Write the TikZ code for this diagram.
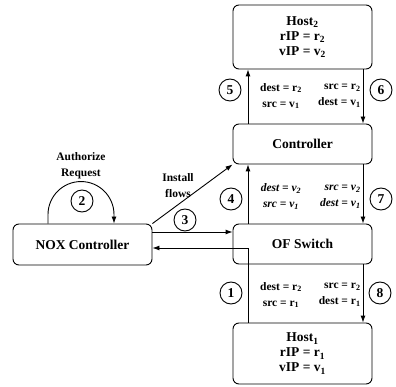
\documentclass[tikz,border=0pt]{standalone}
\usepackage{fontspec}
\setmainfont{Liberation Serif}
\usetikzlibrary{arrows.meta,calc}
\begin{document}
\begin{tikzpicture}[x=1pt,y=-1pt, line width=0.9pt, >={Latex[length=7pt,width=5pt]},
 box/.style={draw, rounded corners=6pt, minimum width=139pt, inner sep=0pt, font=\fontsize{13.5}{15}\selectfont\bfseries, align=center},
 num/.style={draw, circle, minimum size=22pt, inner sep=0pt, font=\fontsize{13.5}{15}\selectfont\bfseries},
 lbl/.style={font=\fontsize{11.5}{16}\selectfont\bfseries, inner sep=0pt},
 lblL/.style={lbl, align=center},
 lblR/.style={lbl, align=right, anchor=east}]
\useasboundingbox (0,0) rectangle (396,387);

\node[box, minimum height=64pt] (host2) at (302.5,37) {Host\textsubscript{2}\\rIP = r\textsubscript{2}\\vIP = v\textsubscript{2}};
\node[box, minimum height=40pt] (ctrl) at (302.5,144) {Controller};
\node[box, minimum height=40pt] (of) at (302.5,244) {OF Switch};
\node[box, minimum height=61pt] (host1) at (302.5,353.5) {Host\textsubscript{1}\\rIP = r\textsubscript{1}\\vIP = v\textsubscript{1}};
\node[box, minimum height=41pt] (nox) at (82.5,244.5) {NOX Controller};

\coordinate (lx) at (248,0);
\coordinate (rx) at (363,0);
\coordinate (fw) at (0,232);
\coordinate (ret) at (0,248);
\coordinate (a1) at (48,0);
\coordinate (a2) at (114,0);

\draw[->] (ctrl.north -| lx) -- (host2.south -| lx);
\draw[->] (host2.south -| rx) -- (ctrl.north -| rx);
\draw[->] (of.north -| lx) -- (ctrl.south -| lx);
\draw[->] (ctrl.south -| rx) -- (of.north -| rx);
\draw[->] (of.south -| rx) -- (host1.north -| rx);
\draw[->] (host1.north -| lx) -- (lx |- ret) -- (nox.east |- ret);
\draw[->] (nox.east |- fw) -- (of.west |- fw);
\draw[->] (nox.north east) -- (ctrl.south west);
\draw[->] (a1 |- nox.north) -- ++(0,-9) arc[start angle=180, end angle=360, radius=33] -- (a2 |- nox.north);

\node[lblL] (l5) at (281,96) {dest = r\textsubscript{2}\\src = v\textsubscript{1}};
\node[lblR] (r6) at (361,96) {src = r\textsubscript{2}\\dest = v\textsubscript{1}};
\node[lblL] (l4) at (281,196.5) {\itshape dest = v\textsubscript{2}\\\itshape src = v\textsubscript{1}};
\node[lblR] (r7) at (361,196.5) {\itshape src = v\textsubscript{2}\\\itshape dest = v\textsubscript{1}};
\node[lblL] (l1) at (281,295) {dest = r\textsubscript{2}\\src = r\textsubscript{1}};
\node[lblR] (r8) at (361,295) {src = r\textsubscript{2}\\dest = r\textsubscript{1}};

\node[lblL] (auth) at (81,166) {Authorize\\Request};
\node[lblL] (inst) at (178,186) {Install\\flows};

\node[num] (n5) at (230,90) {5};
\node[num] (n6) at (381,90) {6};
\node[num] (n4) at (231,199) {4};
\node[num] (n7) at (381,199) {7};
\node[num] (n1) at (231,293) {1};
\node[num] (n8) at (380,293) {8};
\node[num] (n2) at (82,201) {2};
\node[num] (n3) at (185,220) {3};
\end{tikzpicture}
\end{document}
